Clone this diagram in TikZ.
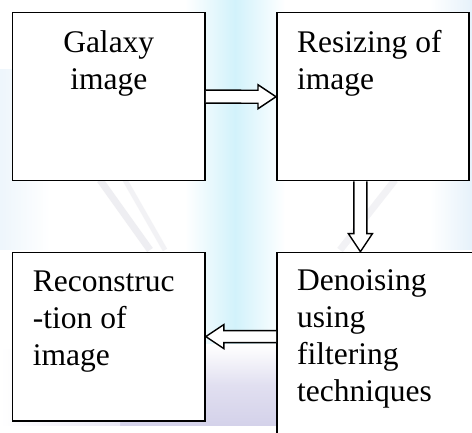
\documentclass[tikz,border=0pt]{standalone}
\usepackage{fontspec}
\setmainfont{Liberation Serif}
\usetikzlibrary{calc}

\definecolor{wmcyan}{RGB}{210,242,251}
\definecolor{wmlav}{RGB}{212,210,234}
\definecolor{wmblue}{RGB}{205,228,246}
\definecolor{wmgray}{RGB}{228,228,234}

\tikzset{
  box/.style={draw=black, line width=1.5pt, fill=white, anchor=north west,
              inner sep=0pt, minimum width=#1},
  label/.style={inner sep=0pt, font=\fontsize{31.5}{37}\selectfont},
  hollow/.style={draw=black, line width=1.4pt, fill=white, line join=miter}
}

\begin{document}
\begin{tikzpicture}[x=1pt, y=-1pt]
\useasboundingbox (0,0) rectangle (472,433);
\clip (0,0) rectangle (472,433);
\fill[white] (0,0) rectangle (472,433);

% faint background wash
\shade[left color=white, right color=white, middle color=wmcyan]
  (185,0) rectangle (285,350);
\shade[left color=wmblue!35, right color=white] (0,70) rectangle (50,250);
\shade[top color=white, bottom color=wmlav, middle color=wmlav!70] (120,345) rectangle (290,425);
\shade[left color=white, right color=wmlav!55] (0,350) rectangle (120,425);
\shade[left color=white, right color=wmblue!50] (430,0) rectangle (472,250);
\draw[wmgray, line width=7pt, opacity=0.6] (100,180) -- (150,250);
\draw[wmgray, line width=5pt, opacity=0.45] (125,180) -- (165,250);
\draw[wmgray, line width=7pt, opacity=0.45] (340,250) -- (395,180);

% process boxes
\node[box=192.6pt, minimum height=168.3pt] (A) at (11.7,11.7) {};
\node[box=192.3pt, minimum height=168pt]   (B) at (276,12) {};
\node[box=192.6pt, minimum height=168.3pt] (C) at (11.7,251.7) {};
\node[box=240pt,   minimum height=220pt]   (D) at (276,251.7) {};

% box texts
\node[label, anchor=north, align=center] (tA) at ([yshift=-19pt]A.north) {Galaxy\\image};
\node[label, anchor=north west, align=left] (tB) at ([xshift=21pt,yshift=-18.5pt]B.north west) {Resizing of\\image};
\node[label, anchor=north west, align=left] (tC) at ([xshift=21pt,yshift=-18.5pt]C.north west) {Reconstruc\\-tion of\\image};
\node[label, anchor=north west, align=left] (tD) at ([xshift=21pt,yshift=-18pt]D.north west) {Denoising\\using\\filtering\\techniques};

% hollow block arrows
\coordinate (bd1) at ([xshift=-12.5pt]B.south);
\coordinate (bd2) at (bd1 |- D.north);
\coordinate (dc1) at (C.east -| D.west);

\draw[hollow] ([yshift=6.5pt]A.east) -- ([xshift=-18pt,yshift=6.5pt]B.west)
  -- ([xshift=-18pt,yshift=12pt]B.west) -- (B.west)
  -- ([xshift=-18pt,yshift=-12pt]B.west) -- ([xshift=-18pt,yshift=-6.5pt]B.west)
  -- ([yshift=-6.5pt]A.east);

\draw[hollow] ([xshift=-6.5pt]bd1) -- ([xshift=-6.5pt,yshift=18pt]bd2)
  -- ([xshift=-12pt,yshift=18pt]bd2) -- (bd2)
  -- ([xshift=12pt,yshift=18pt]bd2) -- ([xshift=6.5pt,yshift=18pt]bd2)
  -- ([xshift=6.5pt]bd1);

\draw[hollow] ([yshift=6pt]dc1) -- ([xshift=18pt,yshift=6pt]C.east)
  -- ([xshift=18pt,yshift=12pt]C.east) -- (C.east)
  -- ([xshift=18pt,yshift=-12pt]C.east) -- ([xshift=18pt,yshift=-6pt]C.east)
  -- ([yshift=-6pt]dc1);
\end{tikzpicture}
\end{document}
